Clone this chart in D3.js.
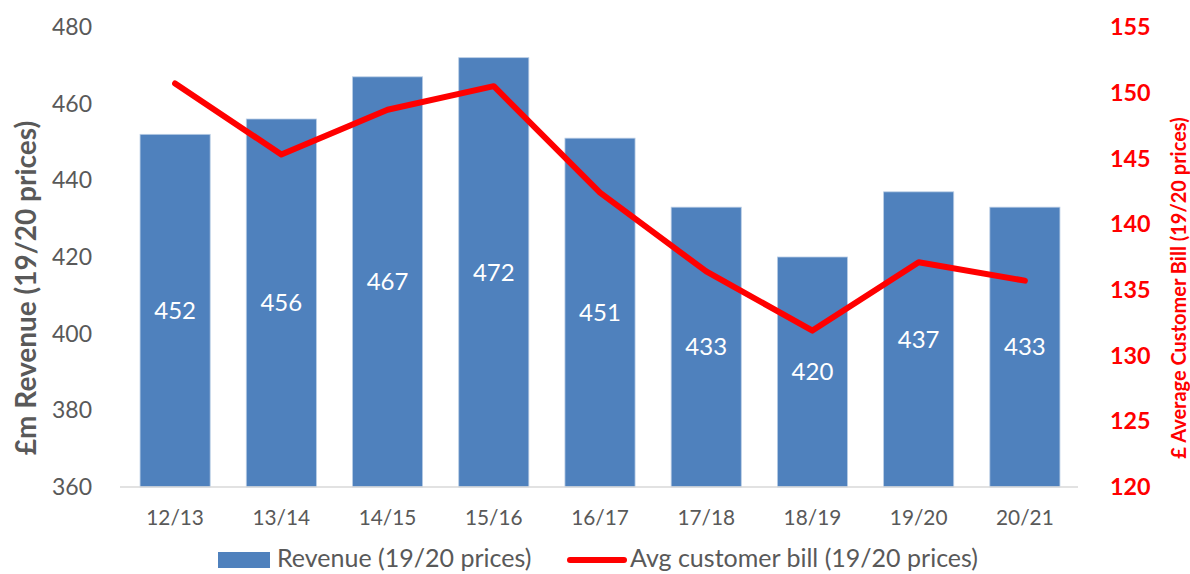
<!DOCTYPE html>
<html>
<head>
<meta charset="utf-8">
<script src="https://cdn.jsdelivr.net/npm/d3@7"></script>
<style>
  body { margin: 0; background: #fff; }
  text { font-family: Lato, "Open Sans", sans-serif; }
</style>
</head>
<body>
<div id="container"></div>
<script>
var width = 1190;
var height = 574;
var margin = {left: 122, right: 112, top: 27, bottom: 87};

// data
var years = ["12/13", "13/14", "14/15", "15/16", "16/17", "17/18", "18/19", "19/20", "20/21"];
var revenue = [452, 456, 467, 472, 451, 433, 420, 437, 433];
var bill = [150.7, 145.3, 148.7, 150.5, 142.4, 136.4, 131.9, 137.1, 135.7];
var leftTicks = [360, 380, 400, 420, 440, 460, 480];
var rightTicks = [120, 125, 130, 135, 140, 145, 150, 155];

var grey = "#595959";
var blue = "#4f81bd";
var red = "#ff0000";

var svg = d3.select('#container').append('svg').attr('width', width).attr('height', height);

var xScale = d3.scaleBand().domain(years).range([margin.left, width - margin.right]).paddingInner(0.34).paddingOuter(0.17);
var yLeft = d3.scaleLinear().domain([360, 480]).range([height - margin.bottom, margin.top]);
var yRight = d3.scaleLinear().domain([120, 155]).range([height - margin.bottom, margin.top]);

// bars
svg.append('g').selectAll('rect')
    .data(revenue)
    .enter().append('rect')
    .attr('x', function(d, i){ return xScale(years[i]); })
    .attr('y', function(d){ return yLeft(d); })
    .attr('width', xScale.bandwidth())
    .attr('height', function(d){ return yLeft(360) - yLeft(d); })
    .attr('fill', blue)
    .attr('stroke', '#b9cde5')
    .attr('stroke-width', 0.8);

// bar value labels, middle of the bar
svg.append('g').selectAll('text')
    .data(revenue)
    .enter().append('text')
    .attr('x', function(d, i){ return xScale(years[i]) + xScale.bandwidth() / 2; })
    .attr('y', function(d){ return (yLeft(d) + yLeft(360)) / 2; })
    .attr('dy', '0.35em')
    .attr('text-anchor', 'middle')
    .attr('fill', '#fff')
    .attr('font-size', '24px')
    .text(function(d){ return d; });

// x axis line
svg.append('line')
    .attr('x1', margin.left - 2).attr('x2', width - margin.right)
    .attr('y1', yLeft(360)).attr('y2', yLeft(360))
    .attr('stroke', '#d9d9d9').attr('stroke-width', 1.5);

// x labels
svg.append('g').selectAll('text')
    .data(years)
    .enter().append('text')
    .attr('x', function(d){ return xScale(d) + xScale.bandwidth() / 2; })
    .attr('y', 518)
    .attr('dy', '0.35em')
    .attr('text-anchor', 'middle')
    .attr('fill', grey)
    .attr('font-size', '20.8px')
    .text(function(d){ return d; });

// left ticks
svg.append('g').selectAll('text')
    .data(leftTicks)
    .enter().append('text')
    .attr('x', 92)
    .attr('y', function(d){ return yLeft(d); })
    .attr('dy', '0.35em')
    .attr('text-anchor', 'end')
    .attr('fill', grey)
    .attr('font-size', '23px')
    .text(function(d){ return d; });

// right ticks
svg.append('g').selectAll('text')
    .data(rightTicks)
    .enter().append('text')
    .attr('x', 1110)
    .attr('y', function(d){ return yRight(d); })
    .attr('dy', '0.35em')
    .attr('text-anchor', 'start')
    .attr('fill', red)
    .attr('font-weight', 'bold')
    .attr('font-size', '23.3px')
    .text(function(d){ return d; });

// axis titles
svg.append('text')
    .attr('transform', 'translate(36,288) rotate(-90)')
    .attr('text-anchor', 'middle')
    .attr('fill', grey)
    .attr('font-weight', 'bold')
    .attr('font-size', '28px')
    .text('£m Revenue (19/20 prices)');

svg.append('text')
    .attr('transform', 'translate(1186,288) rotate(-90)')
    .attr('text-anchor', 'middle')
    .attr('fill', red)
    .attr('font-weight', 'bold')
    .attr('font-size', '20px')
    .text('£ Average Customer Bill (19/20 prices)');

// bill line
var line = d3.line()
    .x(function(d, i){ return xScale(years[i]) + xScale.bandwidth() / 2; })
    .y(function(d){ return yRight(d); });

svg.append('path')
    .datum(bill)
    .attr('d', line)
    .attr('fill', 'none')
    .attr('stroke', red)
    .attr('stroke-width', 6)
    .attr('stroke-linecap', 'round')
    .attr('stroke-linejoin', 'round');

// legend
var legend = svg.append('g');
legend.append('rect')
    .attr('x', 218).attr('y', 552).attr('width', 52).attr('height', 16)
    .attr('fill', blue);
legend.append('text')
    .attr('x', 277).attr('y', 559).attr('dy', '0.33em')
    .attr('fill', grey).attr('font-size', '25px')
    .text('Revenue (19/20 prices)');
legend.append('line')
    .attr('x1', 570).attr('x2', 624).attr('y1', 560).attr('y2', 560)
    .attr('stroke', red).attr('stroke-width', 6).attr('stroke-linecap', 'round');
legend.append('text')
    .attr('x', 630).attr('y', 559).attr('dy', '0.33em')
    .attr('fill', grey).attr('font-size', '25px')
    .text('Avg customer bill (19/20 prices)');
</script>
</body>
</html>
